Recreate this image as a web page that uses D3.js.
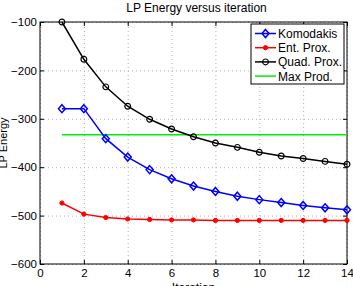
<!DOCTYPE html>
<html>
<head>
<meta charset="utf-8">
<script src="https://cdn.jsdelivr.net/npm/d3@7"></script>
<style>
  body { margin: 0; background: #fff; }
  svg { font-family: 'Liberation Sans', Arial, sans-serif; }
  .grid line { stroke: #b0b0b0; stroke-dasharray: 1,3; }
  .grid path { display: none; }
</style>
</head>
<body>
<svg id="chart"></svg>
<script>
const iterations = [1, 2, 3, 4, 5, 6, 7, 8, 9, 10, 11, 12, 13, 14]
const komodakis = [-279, -279, -341, -379, -405, -424, -439, -450, -460, -467, -473, -479, -484, -488]
const entProx = [-474, -497, -504, -507, -508, -509, -509, -510, -510, -510, -510, -510, -510, -510]
const quadProx = [-100, -177, -234, -274, -301, -321, -337, -350, -359, -369, -377, -382, -388, -394]
const maxProd = -333
const xTicks = [0, 2, 4, 6, 8, 10, 12, 14]
const yTicks = [-100, -200, -300, -400, -500, -600]

const canvasSize = { width: 353, height: 286 }
const margin = { top: 22, right: 6, bottom: 22, left: 40 }
const chartSize = {
  width: canvasSize.width - margin.left - margin.right,
  height: canvasSize.height - margin.top - margin.bottom,
}

const root = d3.select('#chart')
  .attr('width', canvasSize.width)
  .attr('height', canvasSize.height)

const svg = root.append('g')
  .attr('transform', `translate(${margin.left}, ${margin.top})`)

const x = d3.scaleLinear().domain([0, 14]).range([0, chartSize.width])
const y = d3.scaleLinear().domain([-600, -100]).range([chartSize.height, 0])

// grid
svg.append('g')
  .attr('class', 'grid')
  .attr('transform', `translate(0, ${chartSize.height})`)
  .call(d3.axisBottom(x).tickValues(xTicks).tickSize(-chartSize.height).tickFormat(''))
svg.append('g')
  .attr('class', 'grid')
  .call(d3.axisLeft(y).tickValues(yTicks).tickSize(-chartSize.width).tickFormat(''))

// axes with inward ticks
function styleAxis(g) {
  g.select('.domain').remove()
  g.selectAll('text').style('font-size', '11.5px').attr('fill', '#000')
  g.selectAll('line').attr('stroke', '#000')
}
svg.append('g')
  .attr('transform', `translate(0, ${chartSize.height})`)
  .call(d3.axisBottom(x).tickValues(xTicks).tickSize(-4).tickPadding(5).tickFormat((d) => d))
  .call(styleAxis)
svg.append('g')
  .call(d3.axisTop(x).tickValues(xTicks).tickSize(-4).tickFormat(''))
  .call(styleAxis)
svg.append('g')
  .call(d3.axisLeft(y).tickValues(yTicks).tickSize(-4).tickPadding(3).tickFormat((d) => '\u2212' + Math.abs(d)))
  .call(styleAxis)
svg.append('g')
  .attr('transform', `translate(${chartSize.width}, 0)`)
  .call(d3.axisRight(y).tickValues(yTicks).tickSize(-4).tickFormat(''))
  .call(styleAxis)

svg.append('rect')
  .attr('width', chartSize.width)
  .attr('height', chartSize.height)
  .attr('fill', 'none')
  .attr('stroke', '#000')
  .attr('stroke-width', 1)

// max prod line
svg.append('line')
  .attr('x1', x(1)).attr('x2', x(14))
  .attr('y1', y(maxProd)).attr('y2', y(maxProd))
  .attr('stroke', '#00ee00')
  .attr('stroke-width', 1.5)

const line = d3.line().x((d) => x(d[0])).y((d) => y(d[1]))

function drawSeries(values, color, marker) {
  const pts = iterations.map((it, i) => [it, values[i]])
  svg.append('path')
    .datum(pts)
    .attr('d', line)
    .attr('fill', 'none')
    .attr('stroke', color)
    .attr('stroke-width', 1.5)
  const m = svg.append('g').selectAll('path')
    .data(pts)
    .enter()
    .append('path')
    .attr('transform', (d) => `translate(${x(d[0])}, ${y(d[1])})`)
  marker(m, color)
}

const diamond = (sel, color) => sel
  .attr('d', 'M0,-4L3.5,0L0,4L-3.5,0Z')
  .attr('fill', 'none').attr('stroke', color).attr('stroke-width', 1.5)
const dot = (sel, color) => sel
  .attr('d', d3.symbol(d3.symbolCircle, 14)())
  .attr('fill', color).attr('stroke', color)
const circle = (sel, color) => sel
  .attr('d', d3.symbol(d3.symbolCircle, 26)())
  .attr('fill', 'none').attr('stroke', color).attr('stroke-width', 1.2)

drawSeries(komodakis, '#0000ff', diamond)
drawSeries(entProx, '#ff0000', dot)
drawSeries(quadProx, '#000000', circle)

// legend
const legendItems = [
  { name: 'Komodakis', color: '#0000ff', marker: diamond },
  { name: 'Ent. Prox.', color: '#ff0000', marker: dot },
  { name: 'Quad. Prox.', color: '#000000', marker: circle },
  { name: 'Max Prod.', color: '#00ee00', marker: null },
]
const legend = root.append('g').attr('transform', 'translate(251, 24)')
legend.append('rect')
  .attr('width', 93).attr('height', 60)
  .attr('fill', '#fff').attr('stroke', '#000')
legendItems.forEach((d, i) => {
  const row = legend.append('g').attr('transform', `translate(0, ${9.5 + i * 14.2})`)
  row.append('line').attr('x1', 4).attr('x2', 25)
    .attr('stroke', d.color).attr('stroke-width', 1.5)
  if (d.marker) {
    d.marker(row.append('path').attr('transform', 'translate(14.5, 0)'), d.color)
  }
  row.append('text').attr('x', 27).attr('y', 4.5)
    .style('font-size', '12px').text(d.name)
})

// title and labels
root.append('text')
  .attr('x', margin.left + chartSize.width / 2 + 3)
  .attr('y', 12)
  .attr('text-anchor', 'middle')
  .style('font-size', '12px')
  .text('LP Energy versus iteration')
root.append('text')
  .attr('x', margin.left + chartSize.width / 2)
  .attr('y', 292)
  .attr('text-anchor', 'middle')
  .style('font-size', '12px')
  .text('Iteration')
root.append('text')
  .attr('transform', `translate(7, ${margin.top + chartSize.height / 2}) rotate(-90)`)
  .attr('text-anchor', 'middle')
  .style('font-size', '11px')
  .text('LP Energy')
</script>
</body>
</html>
